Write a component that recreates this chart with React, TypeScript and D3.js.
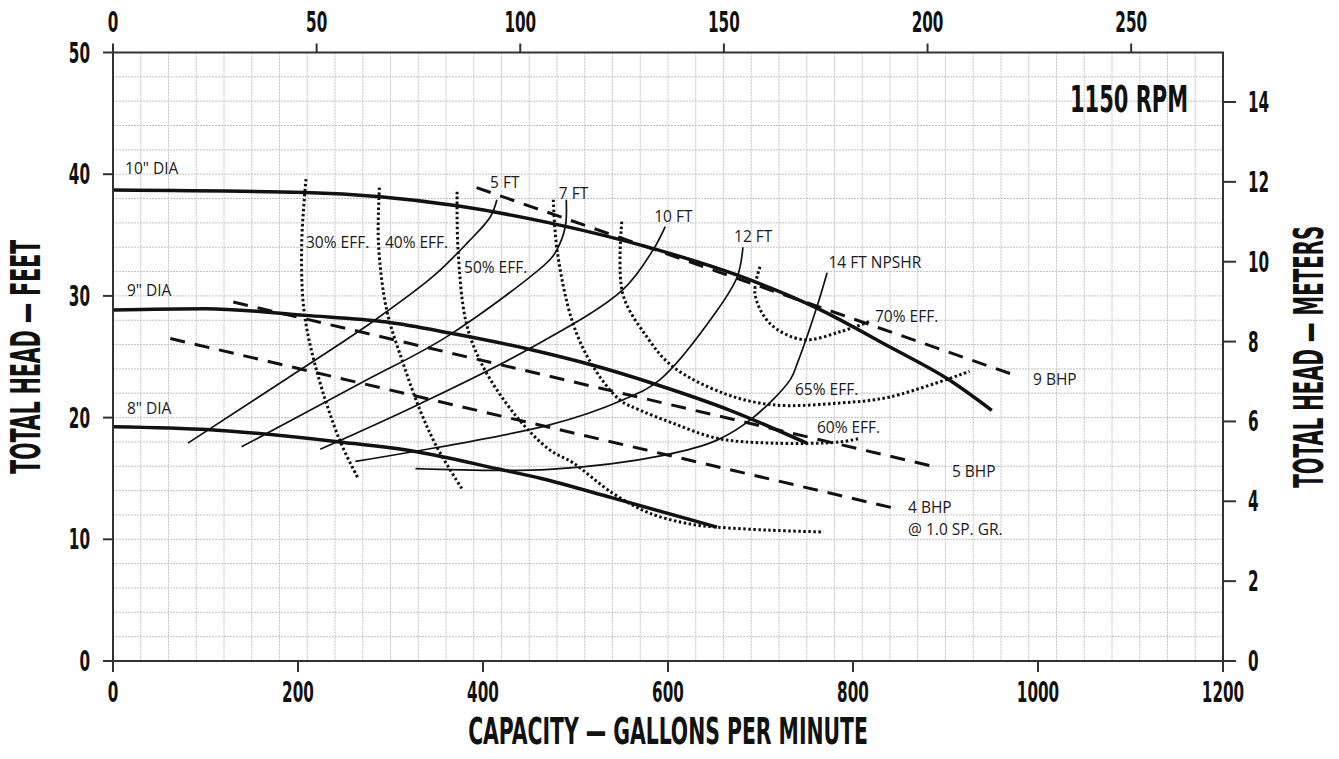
import * as d3 from "d3"
import { useLayoutEffect, useRef, useState } from "react"

type Pt = [number, number] // [gpm, ft]

// impeller head curves
const dia10: Pt[] = [[0, 38.7], [208, 38.5], [289, 38.15], [372, 37.4], [472, 36.0], [588, 33.8], [675, 31.7], [761, 29.0], [840, 25.8], [903, 23.15], [950, 20.6]]
const dia9: Pt[] = [[0, 28.85], [100, 28.95], [208, 28.4], [296, 27.85], [364, 26.95], [451, 25.6], [519, 24.3], [588, 22.7], [667, 20.6], [750, 17.9]]
const dia8: Pt[] = [[0, 19.25], [105, 19.0], [245, 18.0], [328, 17.2], [418, 15.75], [463, 15.0], [540, 13.4], [653, 11.0]]

// brake horsepower lines
const bhp9: Pt[] = [[393, 38.9], [980, 23.35]]
const bhp5: Pt[] = [[130, 29.5], [889, 15.95]]
const bhp4: Pt[] = [[62, 26.5], [845, 12.55]]

// NPSHR lines
const npsh5: Pt[] = [[81, 17.9], [210, 24.3], [281, 27.9], [346, 31.6], [383, 34.35], [408, 36.5], [415, 37.9]]
const npsh7: Pt[] = [[139, 17.6], [267, 22.8], [364, 26.8], [472, 32.95], [480, 33.8], [489, 35.7], [490, 37.9]]
const npsh10: Pt[] = [[224, 17.4], [328, 21.0], [451, 25.7], [551, 30.5], [584, 33.8], [597, 35.7]]
const npsh12: Pt[] = [[262, 16.4], [472, 19.4], [551, 21.45], [591, 23.1], [653, 28.8], [675, 31.6], [681, 34.0]]
const npsh14: Pt[] = [[327, 15.8], [472, 15.75], [595, 16.9], [653, 18.15], [692, 20.0], [732, 23.1], [740, 24.5], [761, 29.1], [772, 31.9]]

// efficiency curves
const eff30: Pt[] = [[208.6, 39.6], [204, 34.3], [206.5, 28.8], [220, 23.9], [245, 18.15], [265, 15.0]]
const eff40: Pt[] = [[288, 38.9], [287, 34.3], [296, 28.8], [313.5, 24.5], [332, 20.6], [350, 17.6], [378, 14.05]]
const eff50: Pt[] = [[372, 38.55], [373, 33.8], [382, 27.75], [400, 24.2], [436, 20.1], [472, 17.35], [497, 16.3], [540, 13.8], [580, 12.15], [624, 11.25], [653, 11.0], [710, 10.75], [768, 10.6]]
const eff60: Pt[] = [[476, 37.9], [480, 33.8], [497, 27.8], [519, 24.2], [548, 21.45], [570, 20.6], [605, 19.55], [653, 18.3], [713, 17.9], [786, 18.0], [808, 18.3]]
const eff65: Pt[] = [[550, 36.1], [551, 30.2], [577, 26.65], [605, 24.2], [660, 22.0], [713, 21.05], [786, 21.2], [840, 21.7], [926, 23.8]]
const eff70: Pt[] = [[699.5, 32.4], [694, 30.2], [710, 27.75], [746, 26.4], [786, 27.05], [818, 27.9]]

// annotations, anchored in data units [gpm, ft]
const labels: { text: string; at: Pt }[] = [
  { text: '10" DIA', at: [13, 40.0] },
  { text: '9" DIA', at: [15, 30.0] },
  { text: '8" DIA', at: [15, 20.3] },
  { text: "30% EFF.", at: [208.6, 33.9] },
  { text: "40% EFF.", at: [294, 33.9] },
  { text: "50% EFF.", at: [379.5, 31.9] },
  { text: "5 FT", at: [407.6, 38.9] },
  { text: "7 FT", at: [482, 37.96] },
  { text: "10 FT", at: [585, 36.1] },
  { text: "12 FT", at: [671.4, 34.45] },
  { text: "14 FT NPSHR", at: [773.5, 32.27] },
  { text: "70% EFF.", at: [823.8, 27.86] },
  { text: "65% EFF.", at: [737.3, 21.86] },
  { text: "60% EFF.", at: [761, 18.76] },
  { text: "9 BHP", at: [994.6, 22.68] },
  { text: "5 BHP", at: [907, 15.14] },
  { text: "4 BHP", at: [859.5, 12.14] },
  { text: "@ 1.0 SP. GR.", at: [859.5, 10.35] },
]

const gpmTicks = [0, 200, 400, 600, 800, 1000, 1200]
const ftTicks = [0, 10, 20, 30, 40, 50]
const m3hTicks = [0, 50, 100, 150, 200, 250]
const meterTicks = [0, 2, 4, 6, 8, 10, 12, 14]

const GPM_PER_M3H = 4.4029
const FT_PER_M = 3.28084

const W = 1339
const H = 759
const L = 113
const R = 1223
const T = 52.5
const B = 661

const COND = "'Liberation Sans Narrow', 'DejaVu Sans Condensed', 'Roboto', sans-serif"
const SMALL = "'Open Sans', 'Noto Sans', sans-serif"

// condensed text: measured once, then squeezed horizontally to the wanted width
function Cond({ x, y, size, len, anchor = "start", rotate, children }: {
  x: number; y: number; size: number; len: number; anchor?: string; rotate?: boolean; children: string
}) {
  const ref = useRef<SVGTextElement>(null)
  const [k, setK] = useState(1)

  useLayoutEffect(() => {
    const w = ref.current?.getComputedTextLength()
    if (w) setK(len / w)
  }, [len, size, children])

  return (
    <text
      ref={ref}
      transform={`translate(${x},${y})${rotate ? " rotate(-90)" : ""} scale(${k},1)`}
      fontFamily={COND}
      fontWeight={700}
      fontSize={size}
      textAnchor={anchor}
      fill="#111"
    >
      {children}
    </text>
  )
}

export default function App() {
  const x = d3.scaleLinear([0, 1200], [L, R])
  const y = d3.scaleLinear([0, 50], [B, T])
  const xTop = d3.scaleLinear([0, 1200 / GPM_PER_M3H], [L, R])
  const yRight = d3.scaleLinear([0, 50 / FT_PER_M], [B, T])

  const smooth = d3.line<Pt>().x((d) => x(d[0])).y((d) => y(d[1])).curve(d3.curveCatmullRom.alpha(0.5))
  const headLine = d3.line<Pt>().x((d) => x(d[0])).y((d) => y(d[1])).curve(d3.curveMonotoneX)
  const straight = d3.line<Pt>().x((d) => x(d[0])).y((d) => y(d[1]))

  const vGrid = d3.range(30, 1200, 30)
  const hGrid = d3.range(2, 50, 2)
  const digitW = 10.6

  return (
    <svg width={W} height={H} style={{ position: "absolute", left: 0, top: 0, background: "#fff" }}>
      {/* grid */}
      <g stroke="#c2c2c2" strokeWidth={1} strokeDasharray="2 1">
        {vGrid.map((g) => <line key={"v" + g} x1={x(g)} x2={x(g)} y1={T} y2={B} />)}
        {hGrid.map((g) => <line key={"h" + g} x1={L} x2={R} y1={y(g)} y2={y(g)} />)}
      </g>

      {/* curves */}
      <g fill="none" stroke="#111">
        {[eff30, eff40, eff50, eff60, eff65, eff70].map((c, i) => (
          <path key={"e" + i} d={smooth(c)!} strokeWidth={3} strokeDasharray="2.5 2.5" />
        ))}
        {[bhp9, bhp5, bhp4].map((c, i) => (
          <path key={"b" + i} d={straight(c)!} strokeWidth={3} strokeDasharray="15 10" />
        ))}
        {[npsh5, npsh7, npsh10, npsh12, npsh14].map((c, i) => (
          <path key={"n" + i} d={smooth(c)!} strokeWidth={1.7} />
        ))}
        {[dia10, dia9, dia8].map((c, i) => (
          <path key={"d" + i} d={headLine(c)!} strokeWidth={3.5} />
        ))}
      </g>

      {/* small labels */}
      <g fontFamily={SMALL} fontSize={15.5} fill="#1a1a1a">
        {labels.map((l) => (
          <text key={l.text} x={x(l.at[0])} y={y(l.at[1])}>{l.text}</text>
        ))}
      </g>

      {/* frame */}
      <rect x={L} y={T} width={R - L} height={B - T} fill="none" stroke="#333" strokeWidth={2} />

      {/* ticks */}
      <g stroke="#333" strokeWidth={2}>
        {gpmTicks.map((t) => <line key={t} x1={x(t)} x2={x(t)} y1={B} y2={B + 11} />)}
        {ftTicks.map((t) => <line key={t} x1={L - 10} x2={L} y1={y(t)} y2={y(t)} />)}
        {m3hTicks.map((t) => <line key={t} x1={xTop(t)} x2={xTop(t)} y1={T - 9} y2={T} />)}
        {meterTicks.map((t) => <line key={t} x1={R} x2={R + 13} y1={yRight(t)} y2={yRight(t)} />)}
      </g>
      {gpmTicks.map((t) => (
        <Cond key={t} x={x(t)} y={702} size={28} len={String(t).length * digitW} anchor="middle">{String(t)}</Cond>
      ))}
      {ftTicks.map((t) => (
        <Cond key={t} x={90} y={y(t) + 10} size={28} len={String(t).length * digitW} anchor="end">{String(t)}</Cond>
      ))}
      {m3hTicks.map((t) => (
        <Cond key={t} x={xTop(t)} y={32} size={29} len={String(t).length * digitW} anchor="middle">{String(t)}</Cond>
      ))}
      {meterTicks.map((t) => (
        <Cond key={t} x={1248} y={yRight(t) + 10} size={28} len={String(t).length * digitW} anchor="start">{String(t)}</Cond>
      ))}

      {/* titles */}
      <Cond x={(L + R) / 2} y={744} size={38} len={400} anchor="middle">CAPACITY — GALLONS PER MINUTE</Cond>
      <Cond x={40} y={(T + B) / 2} size={40} len={234} anchor="middle" rotate>TOTAL HEAD — FEET</Cond>
      <Cond x={1323} y={(T + B) / 2} size={40} len={262} anchor="middle" rotate>TOTAL HEAD — METERS</Cond>
      <Cond x={1188} y={112} size={37} len={118} anchor="end">1150 RPM</Cond>
    </svg>
  )
}
